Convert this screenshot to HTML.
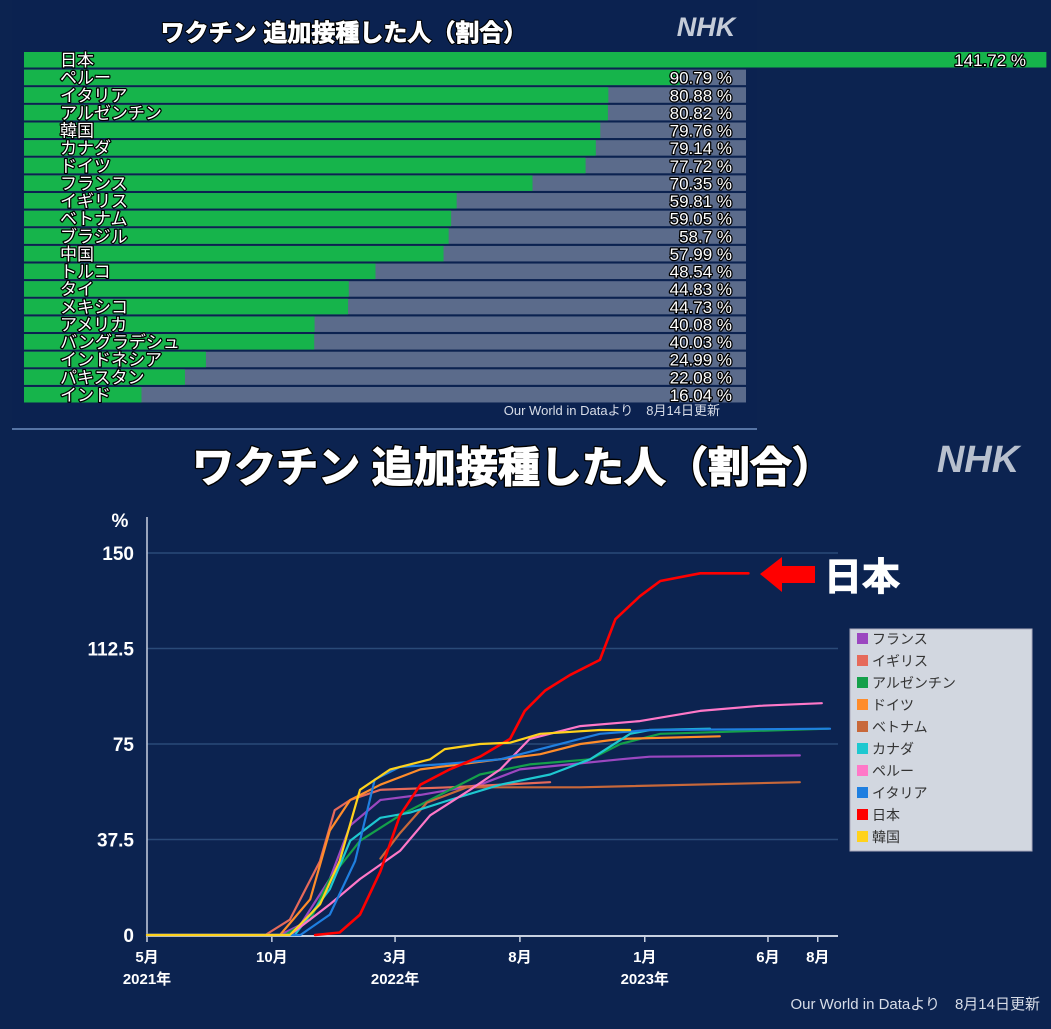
<!DOCTYPE html>
<html><head><meta charset="utf-8">
<style>
html,body{margin:0;padding:0;background:#0c2350;}
body{width:1051px;height:1024px;overflow:hidden;font-family:"Liberation Sans","Noto Sans CJK JP",sans-serif;}
svg text{font-family:"Liberation Sans","Noto Sans CJK JP",sans-serif;}
.ol{paint-order:stroke;stroke:#000;stroke-linejoin:round;}
</style></head>
<body>
<svg id="root" width="1051" height="1024" viewBox="0 0 1051 1024" xmlns="http://www.w3.org/2000/svg">
  <rect x="0" y="0" width="1051" height="1024" fill="#0c2350"/>
  <rect x="12" y="0" width="745" height="428" fill="#0b2250"/>
  <line x1="12" y1="429" x2="757" y2="429" stroke="#6f8fc0" stroke-width="1.5"/>
  <text class="ol" x="344" y="41" text-anchor="middle" font-size="24" font-weight="bold" fill="#fff" stroke-width="3">ワクチン 追加接種した人（割合）</text>
  <text x="344" y="41" text-anchor="middle" font-size="24" font-weight="bold" fill="#fff" stroke="#fff" stroke-width="0.8">ワクチン 追加接種した人（割合）</text>
  <text x="706" y="36" text-anchor="middle" font-size="27" font-weight="bold" font-style="italic" fill="#c5ccd8">NHK</text>
  <g id="bars"></g>
  <text x="720" y="415" text-anchor="end" font-size="13" fill="#d8dde8">Our World in Dataより　8月14日更新</text>

  <text class="ol" x="513" y="482" text-anchor="middle" font-size="42" font-weight="bold" fill="#fff" stroke-width="4">ワクチン 追加接種した人（割合）</text>
  <text x="513" y="482" text-anchor="middle" font-size="42" font-weight="bold" fill="#fff" stroke="#fff" stroke-width="1.3">ワクチン 追加接種した人（割合）</text>
  <text x="978" y="472" text-anchor="middle" font-size="38" font-weight="bold" font-style="italic" fill="#b8c0ce">NHK</text>
  <g id="chart"></g>

  <polygon points="760,574 782,557 782,566 815,566 815,583 782,583 782,592" fill="#ff0000"/>
  <text x="824" y="590" font-size="38" font-weight="bold" fill="#fff" stroke="#fff" stroke-width="1">日本</text>

  <g id="legend">
    <rect x="850" y="629" width="182" height="222" fill="#d2d7e0" stroke="#aab" stroke-width="1"/>
  </g>
  <text x="1040" y="1009" text-anchor="end" font-size="15" fill="#d8dde8">Our World in Dataより　8月14日更新</text>
</svg>
<script>
// ---- Bar chart data ----
const barCountries = ["日本","ペルー","イタリア","アルゼンチン","韓国","カナダ","ドイツ","フランス","イギリス","ベトナム","ブラジル","中国","トルコ","タイ","メキシコ","アメリカ","バングラデシュ","インドネシア","パキスタン","インド"];
const barValues = [141.72,90.79,80.88,80.82,79.76,79.14,77.72,70.35,59.81,59.05,58.7,57.99,48.54,44.83,44.73,40.08,40.03,24.99,22.08,16.04];
const barLabels = ["141.72","90.79","80.88","80.82","79.76","79.14","77.72","70.35","59.81","59.05","58.7","57.99","48.54","44.83","44.73","40.08","40.03","24.99","22.08","16.04"];

// ---- Line chart data (x = days since 2021-05-01, y = %) ----
const seriesNames = ["フランス","イギリス","アルゼンチン","ドイツ","ベトナム","カナダ","ペルー","イタリア","日本","韓国"];
const seriesColors = ["#9b47c0","#e66a5a","#14a04a","#ff8c2a","#c8683a","#1ec8d0","#ff78c8","#1f7fe0","#ff0000","#ffd21c"];
const franceX = [0,163,188,224,249,286,335,408,457,518,580,616,800];
const franceY = [0,0,4,22,43,53,55,59,65,67,69,70,70.5];
const ukX = [0,145,175,212,230,249,286,371,494];
const ukY = [0,0,6,29,49,53,57,58,60];
const argX = [0,169,200,224,261,310,359,408,469,543,580,629,835];
const argY = [0,0,6,22,37,47,55,63,67,69,75,79,81];
const gerX = [0,163,200,224,249,286,335,408,482,531,580,702];
const gerY = [0,0,14,41,53,59,65,68,71,75,77,78];
const vietX = [286,310,343,392,531,800];
const vietY = [30,40,52,58,58,60];
const canX = [0,181,224,249,286,322,371,433,494,543,592,616,690];
const canY = [0,0,18,37,46,48,53,59,63,69,79,80.5,81];
const peruX = [0,175,224,261,310,347,396,433,469,531,604,678,751,827];
const peruY = [0,0,12,22,33,47,57,65,77,82,84,88,90,91];
const itaX = [0,188,224,255,279,310,359,433,482,555,616,837];
const itaY = [0,0,8,29,61,66,67,69,73,79,80.5,81];
const jpnX = [206,236,261,286,310,335,371,408,445,463,488,518,555,574,604,629,678,737];
const jpnY = [0,1,8,25,47,59,65,70,77,88,96,102,108,124,133,139,142,142];
const korX = [0,175,212,236,261,298,347,365,408,445,482,555,592];
const korY = [0,0,12,29,57,65,69,73,75,75.5,79,80.5,80.5];
const seriesX = [franceX,ukX,argX,gerX,vietX,canX,peruX,itaX,jpnX,korX];
const seriesY = [franceY,ukY,argY,gerY,vietY,canY,peruY,itaY,jpnY,korY];
const yTicks = [0,37.5,75,112.5,150];
const yTickLabels = ["0","37.5","75","112.5","150"];
const xTickDays = [0,153,304,457,610,761,822];
const xTickMonths = ["5月","10月","3月","8月","1月","6月","8月"];
const xTickYears = ["2021年","","2022年","","2023年","",""];

const NS = "http://www.w3.org/2000/svg";
function mk(tag, attrs, parent){const e=document.createElementNS(NS,tag);for(const k in attrs)e.setAttribute(k,attrs[k]);parent.appendChild(e);return e;}

// bar axis
const barX0 = 26, barPx = 7.2, rowTop = 52, rowPitch = 17.63, rowH = 15.5, grayEnd = 746;
function barW(v){return v*barPx;}
const bars = document.getElementById('bars');
barValues.forEach((v,i)=>{
  const y = rowTop + i*rowPitch;
  if(i>0){
    const g = mk('rect',{x:24,y:y,width:grayEnd-24,height:rowH,fill:'#5b6b8b'},bars);
    
    
  }
  const r = mk('rect',{x:24,y:y,width:Math.max(0,barX0-24+barW(v)),height:rowH,fill:'#16b44b'},bars);
  
  
  const t = mk('text',{x:60,y:y+14,'font-size':17,fill:'#fff',stroke:'#000','stroke-width':2.5,'class':'ol'},bars);
  t.textContent = barCountries[i];
  
  
  const endX = i===0 ? 1026 : 732;
  const vt = mk('text',{x:endX,y:y+14,'text-anchor':'end','font-size':17,fill:'#fff',stroke:'#000','stroke-width':2.5,'class':'ol'},bars);
  vt.textContent = barLabels[i]+' %';
  
  
});

// line chart axes
const X0 = 147, XS = 0.816, Y0 = 935, YS = 2.547;
function xs(d){return X0 + d*XS;}
function ys(v){return Y0 - v*YS;}
const ch = document.getElementById('chart');
yTicks.forEach((v,i)=>{
  if(v>0){
    const gl = mk('line',{x1:147,x2:838,y1:ys(v),y2:ys(v),stroke:'#2a4a78','stroke-width':1.5},ch);
    
    
  }
  const t = mk('text',{x:134,y:ys(v)+7,'text-anchor':'end','font-size':19,'font-weight':'bold',fill:'#fff'},ch);
  t.textContent = yTickLabels[i];
  
  
});
const pct = mk('text',{x:120,y:527,'text-anchor':'middle','font-size':19,'font-weight':'bold',fill:'#fff'},ch);
pct.textContent='%';


const ya = mk('line',{x1:147,x2:147,y1:517,y2:936,stroke:'#c8d0e0','stroke-width':1.5},ch);


const xa = mk('line',{x1:146,x2:838,y1:936,y2:936,stroke:'#c8d0e0','stroke-width':2},ch);


xTickDays.forEach((d,i)=>{
  const tk = mk('line',{x1:xs(d),x2:xs(d),y1:936,y2:942,stroke:'#c8d0e0','stroke-width':1.5},ch);
  
  
  const t = mk('text',{x:xs(d),y:962,'text-anchor':'middle','font-size':15,'font-weight':'bold',fill:'#fff'},ch);
  t.textContent = xTickMonths[i];
  
  
  if(xTickYears[i]){
    const ty = mk('text',{x:xs(d),y:984,'text-anchor':'middle','font-size':15,'font-weight':'bold',fill:'#fff'},ch);
    ty.textContent = xTickYears[i];
    
    
  }
});
seriesX.forEach((xsArr,s)=>{
  const pts = xsArr.map((d,j)=>xs(d).toFixed(1)+','+ys(seriesY[s][j]).toFixed(1)).join(' ');
  const pl = mk('polyline',{points:pts,fill:'none',stroke:seriesColors[s],'stroke-width':s===8?2.6:2.2,'stroke-linejoin':'round','stroke-linecap':'round'},ch);
  
  
});

// legend
const lg = document.getElementById('legend');
seriesNames.forEach((n,i)=>{
  const y = 633 + i*22;
  const sw = mk('rect',{x:857,y:y,width:11,height:11,fill:seriesColors[i]},lg);
  
  
  const t = mk('text',{x:872,y:y+11,'font-size':14,fill:'#333'},lg);
  t.textContent = n;
  
  
});
</script>
</body></html>
